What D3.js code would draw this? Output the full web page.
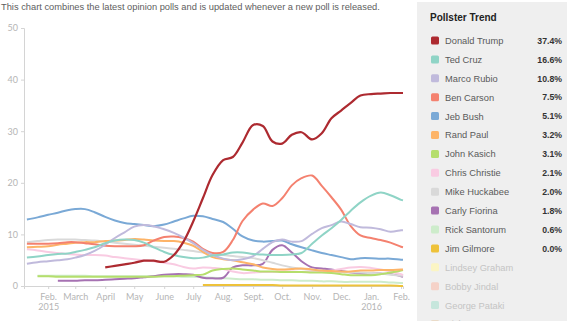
<!DOCTYPE html>
<html>
<head>
<meta charset="utf-8">
<script src="https://cdn.jsdelivr.net/npm/d3@7"></script>
<style>
body { margin: 0; background: #fff; }
svg { display: block; }
text { font-family: Arial, "Liberation Sans", sans-serif; }
.axis text { font-family: Lato, sans-serif; fill: #b5b5b5; font-size: 9px; }
.axis path, .axis line { stroke: #d4d4d4; }
</style>
</head>
<body>
<svg width="567" height="321"></svg>
<script>
// poll averages, sampled roughly every ten days
const dates = ['2015-01-10','2015-01-21','2015-02-01','2015-02-11','2015-02-21','2015-03-01','2015-03-11','2015-03-21',
	'2015-04-01','2015-04-11','2015-04-21','2015-05-01','2015-05-11','2015-05-21','2015-06-01','2015-06-11','2015-06-21',
	'2015-07-01','2015-07-11','2015-07-21','2015-08-01','2015-08-11','2015-08-21','2015-09-01','2015-09-11','2015-09-21',
	'2015-10-01','2015-10-11','2015-10-21','2015-11-01','2015-11-11','2015-11-21','2015-12-01','2015-12-11','2015-12-21',
	'2016-01-01','2016-01-11','2016-01-21','2016-02-01','2016-02-03']

const trump = [null,null,null,null,null,null,null,null,3.6,3.9,4.2,4.5,4.9,4.9,4.7,6.0,8.6,12.5,17.0,21.5,
	24.4,25.0,27.8,31.2,31.0,28.0,27.6,29.3,29.8,28.4,29.6,32.5,34.0,35.5,36.9,37.2,37.3,37.4,37.4,37.4]
const cruz = [5.5,5.7,6.0,6.2,6.3,6.6,7.0,7.5,8.3,8.8,9.0,8.9,8.4,7.5,6.6,6.0,5.6,5.4,5.5,5.9,
	6.1,6.5,6.5,6.2,6.1,6.0,6.0,6.1,6.4,8.2,9.8,11.2,12.8,14.6,16.2,17.5,18.1,17.6,16.7,16.6]
const rubio = [4.3,4.6,4.8,5.0,5.2,5.5,6.0,6.8,8.0,9.3,10.4,11.5,11.8,11.6,11.0,10.3,9.4,8.3,7.0,6.0,
	5.3,5.0,5.2,5.8,7.2,8.5,9.0,8.6,8.7,10.1,11.2,11.8,12.5,12.0,11.4,11.3,11.0,10.5,10.8,10.8]
const carson = [8.2,8.2,8.2,8.3,8.5,8.5,8.3,8.1,7.8,7.7,7.7,7.7,7.9,8.8,9.5,9.6,9.3,8.6,7.2,6.4,
	6.6,8.9,12.6,14.8,16.0,15.5,17.0,19.5,20.9,21.4,19.4,17.2,14.8,11.6,9.8,9.3,8.9,8.4,7.6,7.5]
const bush = [12.9,13.3,13.8,14.2,14.7,14.9,14.9,14.3,13.4,12.7,12.2,12.0,11.8,11.6,11.9,12.5,13.1,13.6,13.5,13.0,
	12.4,11.1,9.6,8.8,8.6,8.7,8.8,8.1,7.5,6.9,6.4,6.0,5.6,5.2,5.4,5.4,5.3,5.3,5.1,5.1]
const paul = [7.5,7.6,7.7,8.0,8.2,8.4,8.5,8.5,8.7,8.8,8.9,9.1,9.0,8.8,8.7,8.7,8.4,7.8,6.6,5.6,
	5.2,5.0,4.6,4.2,3.6,3.3,3.2,3.3,3.4,3.2,3.0,2.9,2.8,2.8,3.0,3.0,3.1,3.1,3.2,3.2]
const kasich = [null,1.9,1.9,1.8,1.8,1.8,1.8,1.8,1.8,1.8,1.8,1.8,1.8,1.8,1.9,1.9,2.0,2.1,2.2,3.0,
	3.3,3.4,3.2,3.0,2.8,2.8,2.7,2.7,2.7,2.6,2.6,2.5,2.3,2.1,2.1,2.1,2.3,2.6,3.0,3.1]
const christie = [7.1,6.9,6.6,6.4,6.2,6.1,6.0,6.0,5.9,5.6,5.4,5.2,5.0,4.8,4.5,4.2,3.7,3.4,3.6,3.5,
	3.3,2.8,2.5,2.6,2.7,2.7,2.8,2.8,2.7,2.8,2.9,3.0,3.3,3.6,3.7,3.5,3.2,2.8,2.3,2.1]
const huckabee = [8.5,8.7,8.9,9.0,9.0,9.0,8.9,8.8,8.6,8.4,8.2,8.0,7.8,7.6,7.4,7.2,7.0,6.8,6.5,6.2,
	6.0,5.8,5.6,5.4,5.0,4.5,4.0,3.6,3.3,3.1,2.9,2.8,2.7,2.6,2.6,2.5,2.4,2.2,2.0,2.0]
const fiorina = [null,null,null,1.0,1.0,1.0,1.1,1.1,1.2,1.3,1.4,1.5,1.7,1.9,2.2,2.3,2.3,2.2,1.6,1.5,
	1.6,3.6,4.0,4.0,4.3,7.0,7.9,6.5,4.8,3.6,3.4,3.2,2.9,2.6,2.4,2.4,2.4,2.3,1.9,1.8]
const santorum = [null,2.0,2.0,2.0,2.0,2.0,2.0,1.9,1.9,1.9,1.9,1.9,1.9,1.9,1.9,1.9,1.8,1.8,1.7,1.6,
	1.5,1.4,1.3,1.3,1.2,1.2,1.1,1.1,1.0,1.0,0.9,0.9,0.8,0.8,0.8,0.8,0.8,0.7,0.6,0.6]
const gilmore = [null,null,null,null,null,null,null,null,null,null,null,null,null,null,null,null,null,null,0.2,0.2,
	0.2,0.2,0.2,0.2,0.2,0.2,0.1,0.1,0.1,0.1,0.1,0.1,0.1,0.1,0.1,0.1,0.1,0.1,0.0,0.0]

const names = ['Donald Trump','Ted Cruz','Marco Rubio','Ben Carson','Jeb Bush','Rand Paul','John Kasich',
	'Chris Christie','Mike Huckabee','Carly Fiorina','Rick Santorum','Jim Gilmore',
	'Lindsey Graham','Bobby Jindal','George Pataki','Rick Perry']
const latest = ['37.4%','16.6%','10.8%','7.5%','5.1%','3.2%','3.1%','2.1%','2.0%','1.8%','0.6%','0.0%','','','','']
const colors = ['#ad2a30','#8fd4c6','#c0badc','#f4816f','#7aa9d6','#fdb468','#b5de6c','#f9cbe2',
	'#d9d9d9','#a672b2','#cdeccb','#eec23a','#fbf5c4','#f5d2c8','#c6e6dc','#eadbc8']
const values = [trump,cruz,rubio,carson,bush,paul,kasich,christie,huckabee,fiorina,santorum,gilmore]

const monthTicks = ['2015-02-01','2015-03-01','2015-04-01','2015-05-01','2015-06-01','2015-07-01','2015-08-01',
	'2015-09-01','2015-10-01','2015-11-01','2015-12-01','2016-01-01','2016-02-01']
const monthLabels = ['Feb.','March','April','May','June','July','Aug.','Sept.','Oct.','Nov.','Dec.','Jan.','Feb.']
const yearLabels = {'2015-02-01': '2015', '2016-01-01': '2016'}

const parse = d3.timeParse('%Y-%m-%d')
let svg = d3.select('svg')

svg.append('text')
.attr('x', 1).attr('y', 10)
.attr('font-size', 9.3).attr('fill', '#5e5e5e')
.text('This chart combines the latest opinion polls and is updated whenever a new poll is released.')

let x = d3.scaleTime()
.domain([parse('2015-01-07'), parse('2016-02-03')])
.range([24, 403])

let y = d3.scaleLinear()
.domain([0, 50])
.range([286, 28])

// axes
svg.append('g')
.attr('class', 'axis')
.attr('transform', 'translate(24,0)')
.call(d3.axisLeft(y).tickValues([0, 10, 20, 30, 40, 50]).tickSize(3).tickPadding(3))

let xAxis = svg.append('g')
.attr('class', 'axis')
.attr('transform', 'translate(0,286)')
.call(d3.axisBottom(x)
	.tickValues(monthTicks.map(parse))
	.tickSize(3).tickPadding(5)
	.tickFormat((d, i) => monthLabels[i]))

xAxis.selectAll('.tick text')
.each(function(d, i) {
	let yr = yearLabels[monthTicks[i]]
	if (yr) d3.select(this).append('tspan').attr('x', 0).attr('dy', '1.1em').text(yr)
})

// lines, drawn back to front so Trump sits on top
let line = d3.line()
.defined(d => d.v != null)
.x(d => x(d.date))
.y(d => y(d.v))
.curve(d3.curveCatmullRom.alpha(0.5))

let series = values.map((vals, i) => ({
	name: names[i],
	color: colors[i],
	points: vals.map((v, j) => ({ date: parse(dates[j]), v: v }))
})).reverse()

svg.append('g')
.selectAll('path')
.data(series).enter()
.append('path')
.attr('fill', 'none')
.attr('stroke', d => d.color)
.attr('stroke-width', d => d.name == 'Donald Trump' ? 2.2 : 2)
.attr('stroke-linejoin', 'round')
.attr('d', d => line(d.points))

// legend panel
let lg = svg.append('g')

lg.append('rect')
.attr('x', 417).attr('y', 2)
.attr('width', 150).attr('height', 319)
.attr('fill', '#efefef')

lg.append('text')
.attr('x', 430).attr('y', 21)
.attr('font-size', 10).attr('font-weight', 'bold').attr('fill', '#222')
.text('Pollster Trend')

let rowY = d3.scaleLinear().domain([0, 1]).range([40.5, 59.4])

let rows = lg.selectAll('g.row')
.data(names).enter()
.append('g')
.attr('class', 'row')
.attr('transform', (d, i) => `translate(0,${rowY(i)})`)

rows.append('rect')
.attr('x', 431).attr('y', -4)
.attr('width', 8).attr('height', 8).attr('rx', 1.5)
.attr('fill', (d, i) => colors[i])

rows.append('text')
.attr('x', 445).attr('y', 3.4)
.attr('font-size', 9.3)
.attr('fill', (d, i) => latest[i] ? '#5a5a5a' : '#c4c4c4')
.text(d => d)

rows.append('text')
.attr('x', 562).attr('y', 3.2)
.attr('text-anchor', 'end')
.attr('font-size', 8.7).attr('font-weight', 'bold').attr('fill', '#333')
.text((d, i) => latest[i])
</script>
</body>
</html>
